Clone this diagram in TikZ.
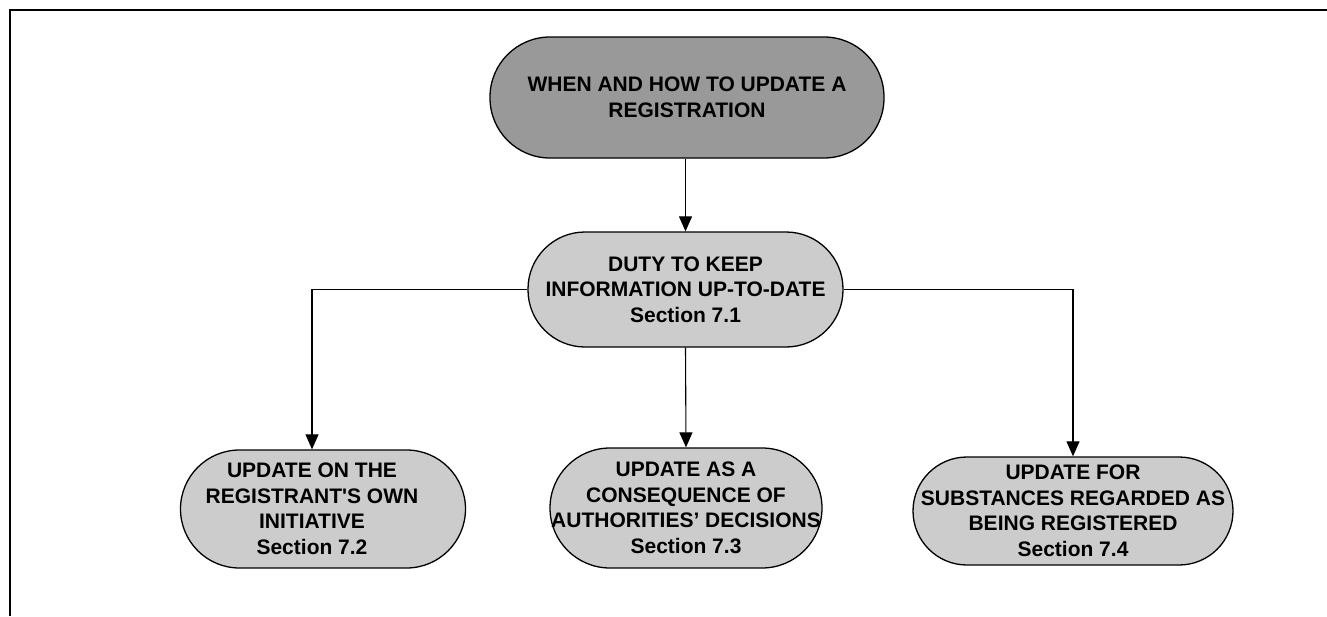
\documentclass[tikz,border=0pt]{standalone}
\usepackage{fontspec}
\setmainfont{Liberation Sans}[Ligatures=TeXOff]
\usetikzlibrary{arrows.meta}
\definecolor{topgray}{HTML}{999999}
\definecolor{boxgray}{HTML}{CCCCCC}
\tikzset{
  pilltext/.style={inner sep=0pt, align=center, font=\bfseries\fontsize{21}{25.5}\selectfont},
  pill/.style={draw=black, line width=1.3pt, rounded corners=#1, pilltext},
  arr/.style={draw=black, line width=1.1pt, -{Triangle[width=13pt,length=15pt]}},
}
\begin{document}
\begin{tikzpicture}[x=1pt,y=-1pt]
\useasboundingbox (0,0) rectangle (1327,616);
\draw[line width=2.2pt] (10,616) -- (10,10) -- (1327,10);

\node[pill=60pt, fill=topgray, minimum width=394pt, minimum height=121pt] (top) at (687,97.5)
  {WHEN AND HOW TO UPDATE A\\REGISTRATION};
\node[pill=57pt, fill=boxgray, minimum width=315pt, minimum height=115pt] (mid) at (685.5,289.5)
  {DUTY TO KEEP\\INFORMATION UP-TO-DATE\\Section 7.1};
\node[pill=59pt, fill=boxgray, minimum width=285pt, minimum height=118pt] (b1) at (323,509) {};
\node[pilltext] (b1t) at (312,509)
  {UPDATE ON THE\\REGISTRANT'S OWN\\INITIATIVE\\Section 7.2};
\node[pill=60pt, fill=boxgray, minimum width=272pt, minimum height=120pt] (b2) at (686,508)
  {UPDATE AS A\\CONSEQUENCE OF\\AUTHORITIES’ DECISIONS\\Section 7.3};
\node[pill=54pt, fill=boxgray, minimum width=320pt, minimum height=108pt] (b3) at (1073,511)
  {UPDATE FOR\\SUBSTANCES REGARDED AS\\BEING REGISTERED\\Section 7.4};

\draw[arr] (mid.north |- top.south) -- (mid.north);
\draw[arr] (mid.west) -| (b1t |- b1.north);
\draw[arr] (mid.east) -| (b3.north);
\draw[arr] (mid.south) -- (b2.north);
\end{tikzpicture}
\end{document}
